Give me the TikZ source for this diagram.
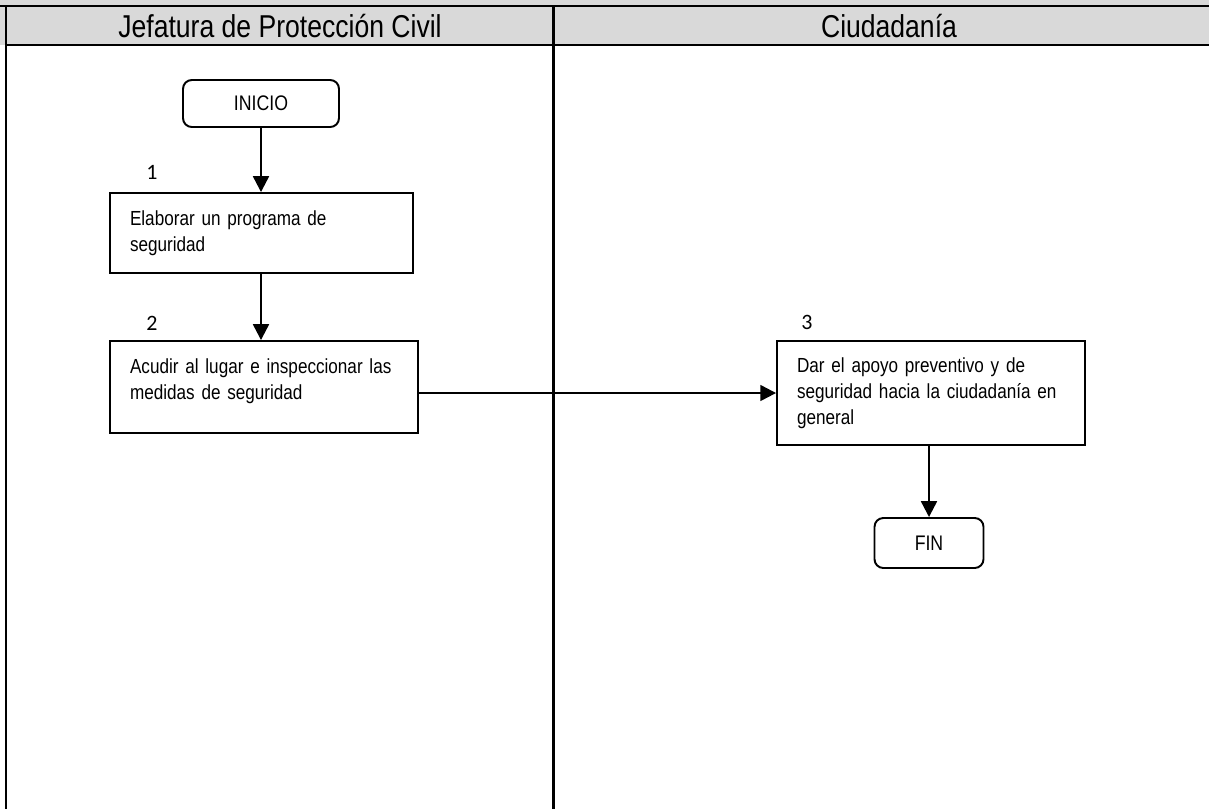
\documentclass[tikz,border=0pt]{standalone}
\usepackage{fontspec}
\setmainfont{Liberation Sans}
\newfontfamily\narrowfont[FakeStretch=0.84, WordSpace=0.65]{Liberation Sans}
\newfontfamily\lanefont[FakeStretch=0.84]{Liberation Sans}
\newfontfamily\numfont{Carlito}
\usetikzlibrary{arrows.meta, positioning}
\usepackage{xcolor}
\definecolor{headgray}{HTML}{D9D9D9}

\begin{document}
\begin{tikzpicture}[
      x=0.02cm, y=-0.02cm,
      box/.style={draw, line width=1.1pt, minimum width=6.06cm, minimum height=1.6cm, text width=5.26cm, align=left, inner xsep=0.4cm, font=\narrowfont\fontsize{11.6pt}{14.7pt}\selectfont},
      term/.style={draw, rounded corners=5pt, line width=1.1pt, minimum width=3.12cm, minimum height=0.94cm, align=center, font=\narrowfont\fontsize{12pt}{14pt}\selectfont},
      lane/.style={font=\lanefont\fontsize{18pt}{22pt}\selectfont},
      num/.style={font=\numfont\fontsize{12.5pt}{14pt}\selectfont},
      flow/.style={line width=1.3pt, -{Triangle[length=9pt, width=9pt]}}
    ]
    \useasboundingbox (0,0) rectangle (1209,809);
    % cabecera de carriles
    \fill[headgray] (0,0) rectangle (1209,45);
    \draw[line width=1.7pt] (0,6) -- (1209,6);
    \draw[line width=1.7pt] (6,45) -- (1209,45);
    \draw[line width=1.7pt] (6,6) -- (6,809);
    \draw[line width=1.7pt] (553,6) -- (553,809);
    \node[lane] (lane1) at (280,26) {Jefatura de Protección Civil};
    \node[lane] (lane2) at (889,26) {Ciudadanía};

    \node[term] (inicio) at (261,103.5) {INICIO};
    \node[box] (paso1) at (261.5,233) {Elaborar un programa de\\seguridad};
    \node[box, minimum width=6.16cm, text width=5.36cm, minimum height=1.84cm] (paso2) at (264,387) {Acudir al lugar e inspeccionar las\\medidas de seguridad\\[-0.2cm]\mbox{}};
    \node[box, minimum width=6.16cm, text width=5.36cm, minimum height=2.08cm] (paso3) at (931,393) {Dar el apoyo preventivo y de\\seguridad hacia la ciudadanía en\\general};
    \node[term, minimum width=2.18cm, minimum height=1cm] (fin) at (929,543) {FIN};

    \node[num] (n1) at (152,172) {1};
    \node[num] (n2) at (152,323) {2};
    \node[num] (n3) at (807,322) {3};

    \draw[flow] (inicio) -- (paso1.north -| inicio);
    \draw[flow] (paso1.south -| inicio) -- (paso2.north -| inicio);
    \draw[flow] (paso2.east |- paso3.west) -- (paso3.west);
    \draw[flow] (paso3.south -| fin) -- (fin);
  \end{tikzpicture}
\end{document}
